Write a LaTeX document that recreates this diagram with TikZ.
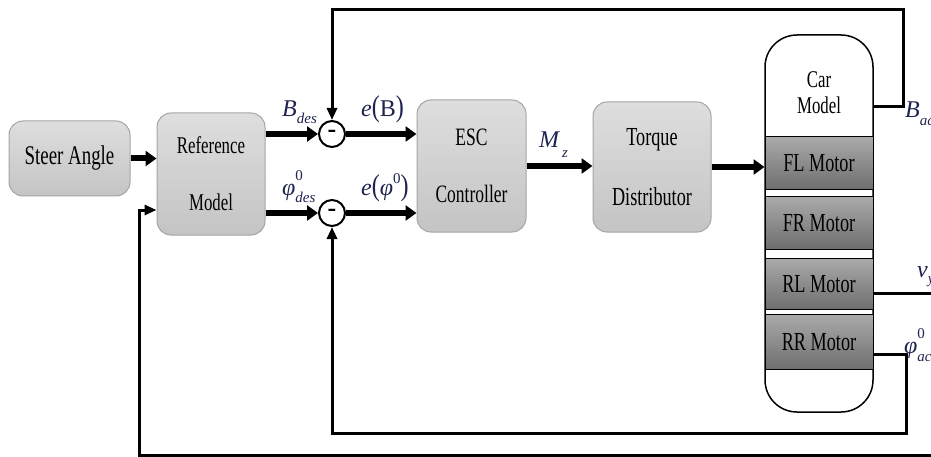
\documentclass[tikz,border=0pt]{standalone}
\usepackage{fontspec}
\setmainfont{Liberation Serif}[FakeStretch=0.7]
\newfontfamily\lblfont{Liberation Serif}
\usetikzlibrary{arrows.meta}
\definecolor{lblc}{RGB}{30,35,80}
\definecolor{boxline}{RGB}{165,165,165}
\definecolor{boxtop}{RGB}{222,222,222}
\definecolor{boxbot}{RGB}{196,196,196}
\definecolor{mtop}{RGB}{170,170,170}
\definecolor{mbot}{RGB}{110,110,110}
\tikzset{
  gbox/.style={draw=boxline, line width=1pt, rounded corners=14pt, top color=boxtop, bottom color=boxbot, align=center, inner sep=0pt},
  motor/.style={draw=black, line width=1pt, top color=mtop, bottom color=mbot, minimum width=108pt, inner sep=0pt, font=\fontsize{26}{26}\selectfont},
  sumj/.style={circle, draw=black, line width=2pt, fill=white, minimum size=26pt, inner sep=0pt, font=\lblfont\bfseries\fontsize{26}{26}\selectfont},
  sig/.style={line width=6pt, -{Triangle[length=11pt,width=15pt]}},
  fb/.style={line width=3pt, -{Triangle[length=12pt,width=10pt]}},
  fbl/.style={line width=3pt},
  lbl/.style={anchor=base west, inner sep=0pt, text=lblc, font=\lblfont\itshape\fontsize{24}{24}\selectfont},
}
\newcommand{\sbs}[2]{\raisebox{#1}{\fontsize{15}{15}\selectfont #2}}
\newcommand{\bigpar}[1]{\scalebox{1}[1.25]{\upshape #1}}
\begin{document}
\begin{tikzpicture}[x=1pt,y=-1pt]
\useasboundingbox (0,0) rectangle (931,457);
% blocks
\node[gbox, minimum width=121pt, minimum height=75pt, font=\fontsize{27}{27}\selectfont] (steer) at (69.5,158.5) {Steer Angle};
\node[gbox, minimum width=108pt, minimum height=122pt, font=\fontsize{24}{57}\selectfont] (ref) at (211,174) {Reference\\Model};
\node[gbox, minimum width=109pt, minimum height=132pt, font=\fontsize{25}{57}\selectfont] (esc) at (471.5,166) {ESC\\Controller};
\node[gbox, minimum width=118pt, minimum height=130pt, font=\fontsize{26}{60}\selectfont] (torque) at (652,167) {Torque\\Distributor};
% car model
\node[draw=black, line width=1.5pt, fill=white, rounded corners=32pt, minimum width=108pt, minimum height=377pt, inner sep=0pt] (carbox) at (819,223.5) {};
\node[inner sep=0pt, align=center, font=\fontsize{24}{26}\selectfont] (cartext) at (819,93) {Car\\Model};
\node[motor, minimum height=53pt] (fl) at (819,163) {FL Motor};
\node[motor, minimum height=52pt] (fr) at (819,223) {FR Motor};
\node[motor, minimum height=51pt] (rl) at (819,284) {RL Motor};
\node[motor, minimum height=55pt] (rr) at (819,342) {RR Motor};
% summing junctions
\node[sumj] (s1) at (332,134) {-};
\node[sumj] (s2) at (332,213) {-};
% signal arrows
\draw[sig] (steer.east) -- (steer.east -| ref.west);
\draw[sig] (ref.east |- s1) -- (s1.west);
\draw[sig] (ref.east |- s2) -- (s2.west);
\draw[sig] (s1.east) -- (s1.east -| esc.west);
\draw[sig] (s2.east) -- (s2.east -| esc.west);
\draw[sig] (esc.east) -- (esc.east -| torque.west);
\draw[sig] (torque.east) -- (torque.east -| fl.west);
% feedback
\coordinate (br) at (903,107);
\coordinate (tr) at (903,10);
\draw[fb] (carbox.east |- br) -- (br) -- (tr) -| (s1.north);
\coordinate (pr) at (906,354);
\coordinate (pb) at (906,433);
\draw[fb] (rr.east |- pr) -- (pr) -- (pb) -| (s2.south);
\coordinate (vy) at (931,293);
\draw[fbl] (rl.east |- vy) -- (vy);
\coordinate (bl) at (931,455);
\coordinate (blc) at (139,455);
\draw[fb] (bl) -- (blc) |- ([yshift=-36pt]ref.west);
% labels
\node[lbl] (lbdes) at (282,117) {B\sbs{-7pt}{des}};
\node[lbl] (leb) at (361,117) {e\bigpar{(}\upshape B\bigpar{)}};
\node[lbl] (lpdes) at (282,196) {φ\rlap{\sbs{15pt}{\upshape 0}}\sbs{-7pt}{des}};
\node[lbl] (lep) at (361,196) {e\bigpar{(}φ\sbs{13pt}{\upshape 0}\bigpar{)}};
\node[lbl] (lmz) at (539,148) {M\hspace{3pt}\sbs{-10pt}{z}};
\node[lbl] (lbac) at (905,118) {B\sbs{-8pt}{ac}};
\node[lbl] (lvy) at (917,277) {v\sbs{-6pt}{y}};
\node[lbl] (lpac) at (904,353) {φ\rlap{\sbs{15pt}{\upshape 0}}\sbs{-8pt}{ac}};
\end{tikzpicture}
\end{document}
